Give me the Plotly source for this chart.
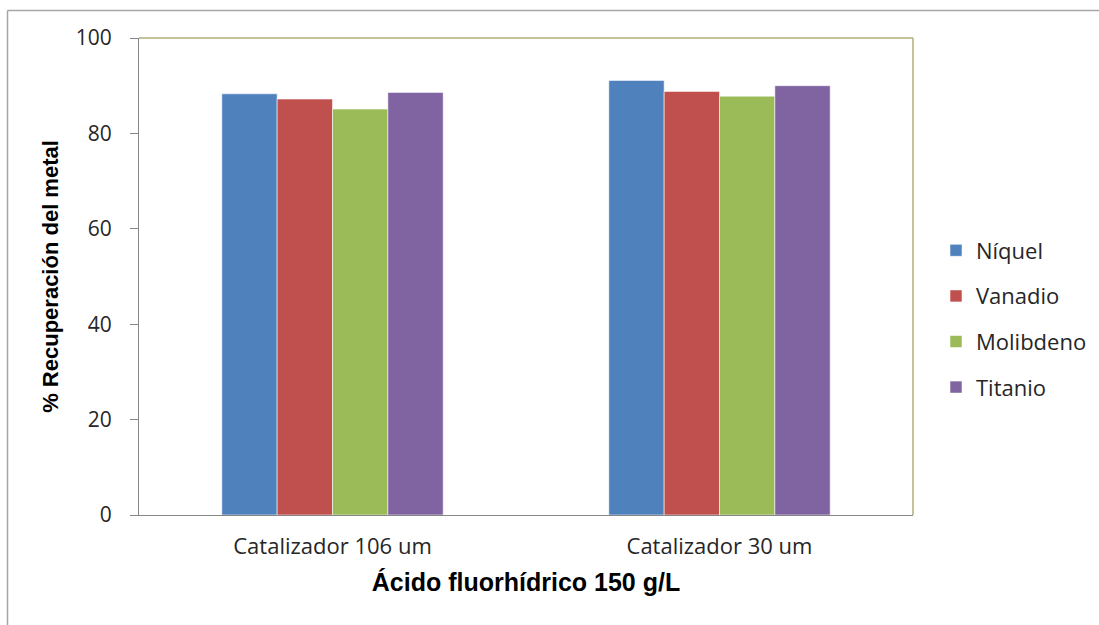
import plotly.graph_objects as go

categories = ["Catalizador 106 um", "Catalizador 30 um"]
series_names = ["Níquel", "Vanadio", "Molibdeno", "Titanio"]
niquel = [88.3, 91.1]
vanadio = [87.2, 88.8]
molibdeno = [85.1, 87.8]
titanio = [88.6, 90.0]
series_values = [niquel, vanadio, molibdeno, titanio]
colors = ["#4f81bd", "#c0504d", "#9bbb59", "#8064a2"]
y_ticks = [0, 20, 40, 60, 80, 100]

fig = go.Figure()
for name, vals, col in zip(series_names, series_values, colors):
    fig.add_trace(go.Bar(
        x=categories, y=vals, name=name, legendgroup=name,
        marker=dict(color=col, line=dict(color="rgba(255,255,255,0.55)", width=1)),
    ))

W, H = 1099, 625
L, R, T, B = 139, 913, 38, 515
fig.update_layout(
    width=W, height=H,
    margin=dict(l=L, r=W - R, t=T, b=H - B, pad=0, autoexpand=False),
    paper_bgcolor="white", plot_bgcolor="white",
    barmode="group", bargap=0.428, bargroupgap=0,
    font=dict(family="Open Sans, sans-serif", color="#262626"),
    showlegend=True,
    legend=dict(
        x=(936 - L) / (R - L), y=(B - 319) / (B - T), xanchor="left", yanchor="middle",
        font=dict(size=22, family="Open Sans, sans-serif", color="#262626"),
        traceorder="grouped", tracegroupgap=14,
        itemwidth=30, bgcolor="rgba(0,0,0,0)",
    ),
    xaxis=dict(
        showline=True, linecolor="#868686", linewidth=1.2,
        ticks="", showgrid=False, zeroline=False,
        tickfont=dict(size=22, family="Open Sans, sans-serif", color="#262626"),
        ticklabelstandoff=11,
        title=dict(text="<b>Ácido fluorhídrico 150 g/L</b>",
                   font=dict(size=25, family="Liberation Sans, Arial, sans-serif", color="#000000"),
                   standoff=14),
    ),
    yaxis=dict(
        range=[0, 100], tickvals=y_ticks, ticktext=[str(v) for v in y_ticks],
        showline=True, linecolor="#868686", linewidth=1.2,
        ticks="outside", ticklen=8, tickcolor="#868686", tickwidth=1.2,
        showgrid=False, zeroline=False,
        tickfont=dict(size=21, family="Open Sans, sans-serif", color="#262626"),
        ticklabelstandoff=14,
        title=dict(text="<b>% Recuperación del metal</b>",
                   font=dict(size=22, family="Liberation Sans, Arial, sans-serif", color="#000000"),
                   standoff=10),
    ),
    shapes=[
        dict(type="line", xref="paper", yref="paper", x0=0, x1=1, y0=1, y1=1,
             line=dict(color="#b5ad78", width=1.5)),
        dict(type="line", xref="paper", yref="paper", x0=1, x1=1, y0=0, y1=1,
             line=dict(color="#b5ad78", width=1.5)),
        dict(type="line", xref="paper", yref="paper",
             x0=(7.5 - L) / (R - L), x1=(W + 5 - L) / (R - L),
             y0=(B - 10.5) / (B - T), y1=(B - 10.5) / (B - T),
             line=dict(color="#a6a6a6", width=1.5)),
        dict(type="line", xref="paper", yref="paper",
             x0=(7.5 - L) / (R - L), x1=(7.5 - L) / (R - L),
             y0=(B - 10.5) / (B - T), y1=(B - H - 5) / (B - T),
             line=dict(color="#a6a6a6", width=1.5)),
    ],
)

fig.write_html("out.html")
